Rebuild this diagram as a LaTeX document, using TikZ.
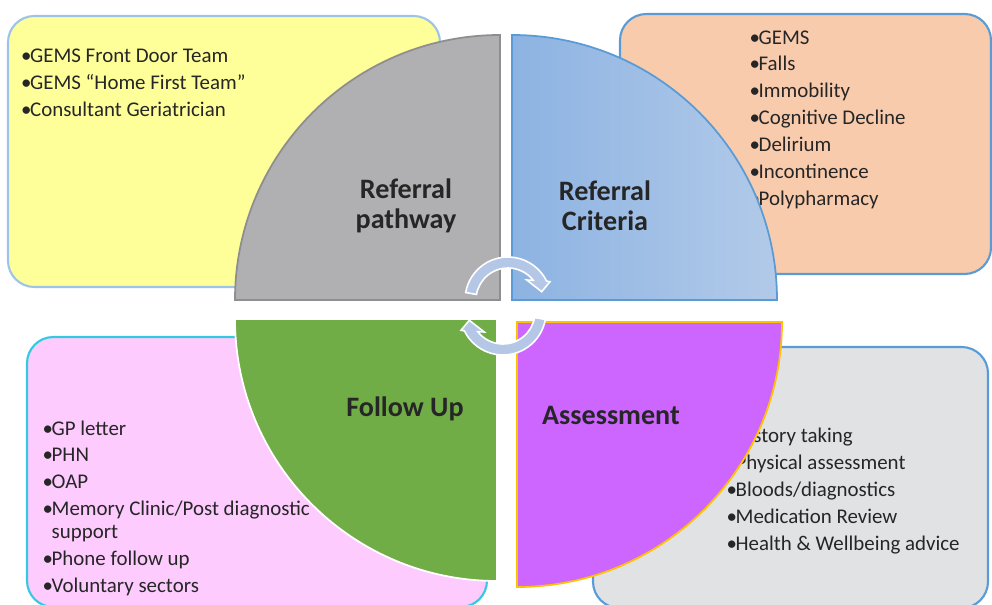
\documentclass[tikz,border=0pt]{standalone}
\usepackage{fontspec}
\setmainfont{Carlito}
\usetikzlibrary{positioning}
\definecolor{ink}{HTML}{262626}
\definecolor{paleyellow}{HTML}{FFFF99}
\definecolor{peach}{HTML}{F8CBAD}
\definecolor{palepink}{HTML}{FDCBFD}
\definecolor{palegray}{HTML}{E1E2E4}
\definecolor{edgeblue}{HTML}{5B9BD5}
\definecolor{edgelight}{HTML}{9DC3E6}
\definecolor{edgecyan}{HTML}{33C9E1}
\definecolor{quartergray}{HTML}{B0B0B2}
\definecolor{quarteredge}{HTML}{8E8E90}
\definecolor{bluestart}{HTML}{8DB3E2}
\definecolor{blueend}{HTML}{B2CAE9}
\definecolor{leafgreen}{HTML}{70AD47}
\definecolor{violet}{HTML}{CC66FF}
\definecolor{gold}{HTML}{FFC000}
\definecolor{turnblue}{HTML}{B4C7E7}
\newcommand\dotitem{\textbullet\kern-0.8pt}
\begin{document}
\begin{tikzpicture}
[x=0.02cm, y=-0.02cm, line width=0.75pt,
panel/.style={rounded corners=15pt, line width=1.2pt},
quarter/.style={line width=1pt},
items/.style={anchor=base west, inner sep=0pt, align=left, text=ink, font=\fontsize{11.9}{15.3}\selectfont},
heading/.style={align=center, inner sep=0pt, text=ink, font=\fontsize{16}{17.2}\selectfont\bfseries},
turn/.style={fill=turnblue, draw=white, line width=0.9pt}
]
\useasboundingbox (0,0) rectangle (992,605);

\draw[panel, fill=paleyellow, draw=edgelight] (8,16) rectangle (440,287);
\draw[panel, fill=peach, draw=edgeblue] (620,14) rectangle (991,274);
\draw[panel, fill=palepink, draw=edgecyan] (27,337) rectangle (487,607);
\draw[panel, fill=palegray, draw=edgeblue] (593,347) rectangle (988,608);

% lists are placed by the baseline of their last line
\node[items] (pathwaylist) at (20.5,116.3) {\dotitem GEMS Front Door Team\\\dotitem GEMS “Home First Team”\\\dotitem Consultant Geriatrician};
\node[items] (criterialist) at (749,205.3) {\dotitem GEMS\\\dotitem Falls\\\dotitem Immobility\\\dotitem Cognitive Decline\\\dotitem Delirium\\\dotitem Incontinence\\\dotitem Polypharmacy};
\node[items] (assesslist) at (726,550) {\dotitem History taking\\\dotitem Physical assessment\\\dotitem Bloods/diagnostics\\\dotitem Medication Review\\\dotitem Health \& Wellbeing advice};
\node[items] (followlist) at (42,592.3) {\dotitem GP letter\\\dotitem PHN\\\dotitem OAP\\\dotitem Memory Clinic/Post diagnostic\\[-2.3pt]\phantom{\dotitem}support\\\dotitem Phone follow up\\\dotitem Voluntary sectors};

\draw[quarter, fill=quartergray, draw=quarteredge] (500,300) -- (235,300) arc[start angle=180, end angle=270, radius=265] -- cycle;
\draw[quarter, left color=bluestart, right color=blueend, draw=edgeblue] (512,300) -- (512,35) arc[start angle=270, end angle=360, radius=265] -- cycle;
\draw[quarter, fill=leafgreen, draw=white] (497,319) -- (235,319) arc[start angle=180, end angle=90, radius=262] -- cycle;
\draw[quarter, fill=violet, draw=gold] (517,322) -- (782,322) arc[start angle=0, end angle=90, radius=265] -- cycle;

\node[heading] (pathway) at (406,206) {Referral\\pathway};
\node[heading] (criteria) at (605,206) {Referral\\Criteria};
\node[heading] (follow) at (405,409) {Follow Up};
\node[heading] (assess) at (611,415) {Assessment};

\foreach \cx/\cy/\rot in {508/300/0, 503/312/180}
  \draw[turn, shift={(\cx,\cy)}, rotate=\rot] (190:43) arc[start angle=190, end angle=334, radius=43]
    -- (42,-18.3) -- (33.7,-8.3) -- (18.7,-20) -- (322:32) arc[start angle=322, end angle=190, radius=32] -- cycle;
\end{tikzpicture}
\end{document}
